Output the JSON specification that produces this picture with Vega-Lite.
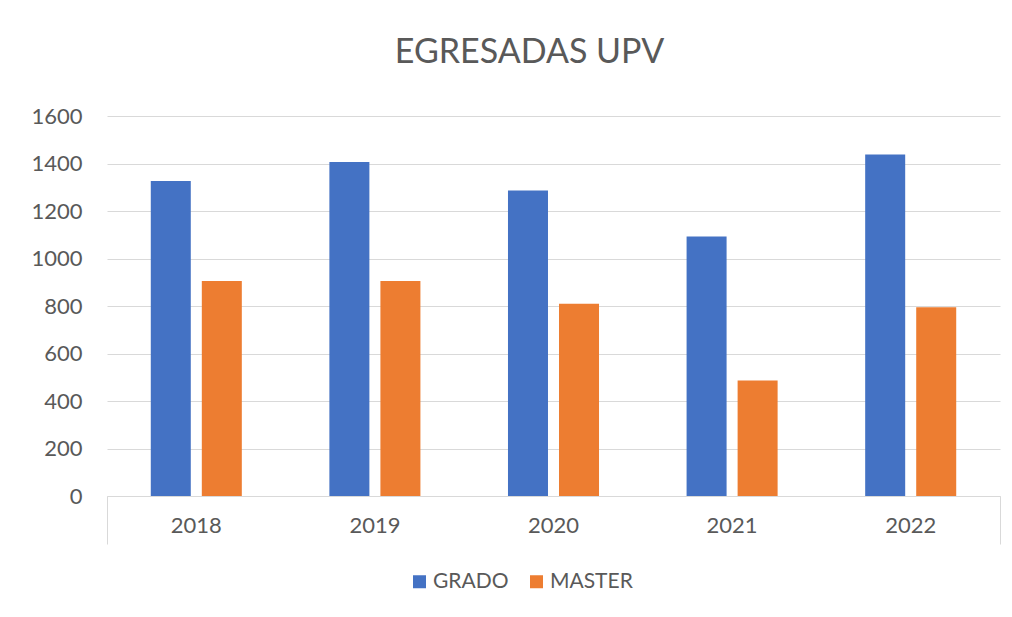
{
  "$schema": "https://vega.github.io/schema/vega-lite/v6.json",
  "width": 893,
  "height": 380,
  "autosize": {"type": "none"},
  "padding": {"left": 107, "top": 116, "right": 12, "bottom": 121},
  "background": "white",
  "title": {
    "text": "EGRESADAS UPV",
    "font": "Lato",
    "fontSize": 34,
    "fontWeight": "normal",
    "color": "#595959",
    "anchor": "middle",
    "dx": -24,
    "baseline": "alphabetic",
    "offset": 8
  },
  "data": {
    "values": [
      {"year": "2018", "tipo": "GRADO", "egresadas": 1326},
      {"year": "2018", "tipo": "MASTER", "egresadas": 905},
      {"year": "2019", "tipo": "GRADO", "egresadas": 1406},
      {"year": "2019", "tipo": "MASTER", "egresadas": 905},
      {"year": "2020", "tipo": "GRADO", "egresadas": 1286},
      {"year": "2020", "tipo": "MASTER", "egresadas": 810},
      {"year": "2021", "tipo": "GRADO", "egresadas": 1093},
      {"year": "2021", "tipo": "MASTER", "egresadas": 486},
      {"year": "2022", "tipo": "GRADO", "egresadas": 1438},
      {"year": "2022", "tipo": "MASTER", "egresadas": 795}
    ]
  },
  "mark": {"type": "bar"},
  "encoding": {
    "x": {
      "field": "year",
      "type": "nominal",
      "title": null,
      "scale": {"paddingInner": 0, "paddingOuter": 0},
      "axis": {
        "labelAngle": 0,
        "labelFont": "Lato",
        "labelFontSize": 22,
        "labelColor": "#595959",
        "domainColor": "#d9d9d9",
        "domainWidth": 1,
        "ticks": true,
        "bandPosition": 1,
        "tickExtra": true,
        "tickSize": 48,
        "tickColor": {"condition": {"test": "datum.index == 1 || datum.index == -1", "value": "#d9d9d9"}, "value": "transparent"},
        "labelPadding": -29,
        "grid": false
      }
    },
    "xOffset": {
      "field": "tipo",
      "type": "nominal",
      "sort": ["GRADO", "MASTER"],
      "scale": {"paddingInner": 0.216, "paddingOuter": 0.858}
    },
    "y": {
      "field": "egresadas",
      "type": "quantitative",
      "title": null,
      "scale": {"domain": [0, 1600], "nice": false},
      "axis": {
        "values": [0, 200, 400, 600, 800, 1000, 1200, 1400, 1600],
        "format": "d",
        "domain": false,
        "ticks": false,
        "grid": true,
        "gridColor": "#d9d9d9",
        "gridWidth": 1,
        "labelFont": "Lato",
        "labelFontSize": 22,
        "labelColor": "#595959",
        "labelPadding": 25
      }
    },
    "color": {
      "field": "tipo",
      "type": "nominal",
      "sort": ["GRADO", "MASTER"],
      "scale": {"domain": ["GRADO", "MASTER"], "range": ["#4472C4", "#ED7D31"]},
      "legend": {
        "title": null,
        "orient": "none",
        "direction": "horizontal",
        "legendX": 302,
        "legendY": 455,
        "symbolType": "square",
        "symbolSize": 169,
        "symbolStrokeWidth": 0,
        "labelFont": "Lato",
        "labelFontSize": 21,
        "labelColor": "#595959",
        "labelOffset": 3,
        "columnPadding": 17,
        "padding": 0
      }
    }
  },
  "config": {
    "view": {"stroke": null},
    "axis": {"gridColor": "#d9d9d9"}
  }
}
